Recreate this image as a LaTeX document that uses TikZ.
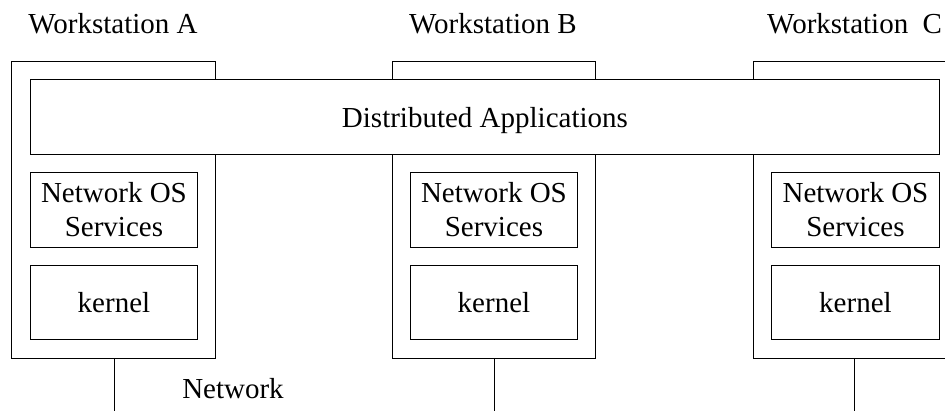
\documentclass[tikz,border=0pt]{standalone}
\usepackage{fontspec}
\setmainfont{Liberation Serif}
\begin{document}
\begin{tikzpicture}[x=1pt,y=-1pt,
  every node/.style={font=\fontsize{29}{34}\selectfont},
  frame/.style={draw, line width=0.9pt, inner sep=0pt, anchor=north west},
  inner/.style={frame, align=center, minimum width=167pt},
  lbl/.style={inner sep=0pt, anchor=base},
  wire/.style={draw, line width=0.9pt}]
\useasboundingbox (0,0) rectangle (945,410);
\clip (0,0) rectangle (945,410);

% workstation outlines
\node[frame, minimum width=204pt, minimum height=297pt] (wsA) at (11,61) {};
\node[frame, minimum width=203pt, minimum height=297pt] (wsB) at (392,61) {};
\node[frame, minimum width=220pt, minimum height=297pt] (wsC) at (753,61) {};

% shared application layer across all workstations
\node[frame, fill=white, text depth=0pt, minimum width=909pt, minimum height=75pt] (apps) at (30,79) {Distributed Applications};

% per-workstation layers
\node[inner, minimum height=75pt] (nosA) at (30,172) {Network OS\\Services};
\node[inner, minimum height=74pt] (kerA) at (30,265) {kernel};
\node[inner, minimum height=75pt] (nosB) at (410,172) {Network OS\\Services};
\node[inner, minimum height=74pt] (kerB) at (410,265) {kernel};
\node[inner, minimum height=75pt, minimum width=168pt] (nosC) at (771,172) {Network OS\\Services};
\node[inner, minimum height=74pt, minimum width=168pt] (kerC) at (771,265) {kernel};

% titles
\node[lbl] (tA) at (113,33) {Workstation A};
\node[lbl] (tB) at (493,33) {Workstation B};
\node[lbl, anchor=base west] (tC) at (767,33) {Workstation\ \ C};

% network attachments
\coordinate (nA) at (114,412);
\coordinate (nB) at (494,412);
\coordinate (nC) at (854,412);
\draw[wire] (wsA.south -| nA) -- (nA);
\draw[wire] (wsB.south -| nB) -- (nB);
\draw[wire] (wsC.south -| nC) -- (nC);
\node[lbl] (net) at (233,398) {Network};
\end{tikzpicture}
\end{document}
